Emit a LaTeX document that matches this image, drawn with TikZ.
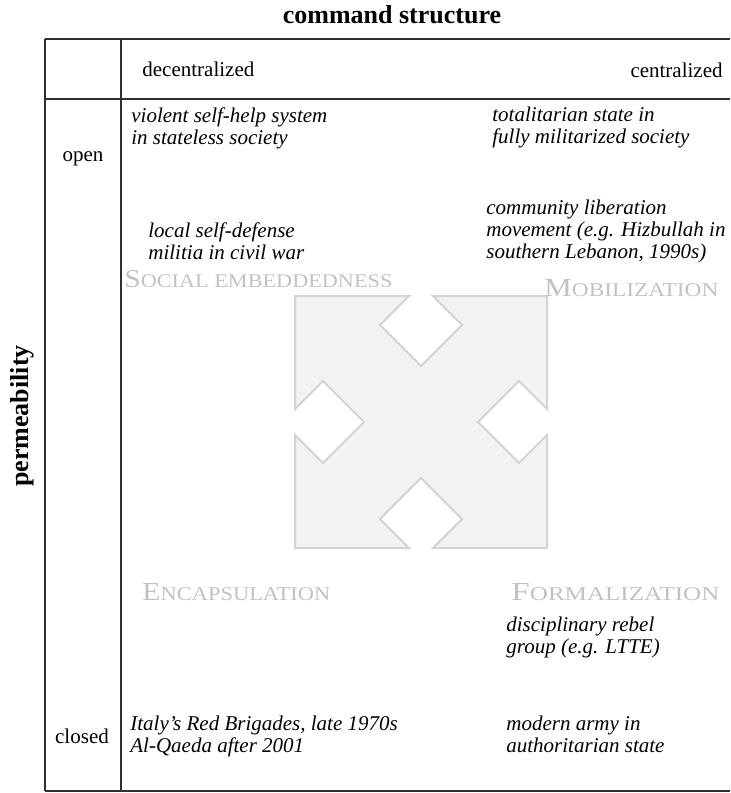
\documentclass[tikz,border=0pt]{standalone}
\usepackage{fontspec}
\setmainfont{Liberation Serif}
\definecolor{rule}{HTML}{303030}
\definecolor{lbl}{HTML}{C2C2C2}
\definecolor{shapefill}{HTML}{F1F2F2}
\definecolor{shapeedge}{HTML}{D2D3D4}
\newcommand{\fsc}[3]{\resizebox{#3pt}{8.5pt}{{\fontsize{13}{13}\selectfont #1}{\fontsize{9.8}{9.8}\selectfont #2}}}
\begin{document}
\begin{tikzpicture}[x=0.5pt,y=-0.5pt,
  ex/.style={font=\fontsize{10.5}{11}\selectfont\itshape, align=left, inner sep=0pt, anchor=north west},
  hd/.style={font=\fontsize{10.5}{11}\selectfont, inner sep=0pt},
  ttl/.style={font=\fontsize{13}{13}\selectfont\bfseries, inner sep=0pt},
  quad/.style={text=lbl, inner sep=0pt, anchor=base west},
  grid/.style={draw=rule, line width=0.9pt}]
\useasboundingbox (0,0) rectangle (730,793);
% table
\coordinate (tl) at (45,39);
\coordinate (tr) at (730,39);
\coordinate (bl) at (45,791);
\coordinate (br) at (730,791);
\coordinate (mt) at (121,39);
\coordinate (mb) at (121,791);
\coordinate (hl) at (45,99);
\coordinate (hr) at (730,99);
\draw[draw=rule, line width=0.7pt] (tl) -- (tr);
\draw[grid] (hl) -- (hr);
\draw[grid] (bl) -- (br);
\draw[grid] (tl) -- (bl);
\draw[grid] (mt) -- (mb);
% central shape
\path[fill=black!7] ([shift={(2,2)}]295,296) -- (409,296) -- (380,325) -- (421,366) -- (462,325) -- (433,296) -- (547,296)
  -- (547,409) -- (519,381) -- (478,422) -- (519,463) -- (547,435) -- (547,548)
  -- (433,548) -- (462,519) -- (421,478) -- (380,519) -- (409,548) -- (295,548)
  -- (295,435) -- (323,463) -- (364,422) -- (323,381) -- (295,409) -- cycle;
\path[fill=shapefill, draw=shapeedge, line width=1pt, line join=miter]
  (295,296) -- (409,296) -- (380,325) -- (421,366) -- (462,325) -- (433,296) -- (547,296)
  -- (547,409) -- (519,381) -- (478,422) -- (519,463) -- (547,435) -- (547,548)
  -- (433,548) -- (462,519) -- (421,478) -- (380,519) -- (409,548) -- (295,548)
  -- (295,435) -- (323,463) -- (364,422) -- (323,381) -- (295,409) -- cycle;
% titles
\node[ttl, anchor=base] (title) at (392,23) {command structure};
\node[ttl, rotate=90, anchor=center] (perm) at (22,416) {permeability};
\node[hd, anchor=base west] (dec) at (142,76) {decentralized};
\node[hd, anchor=base east] (cen) at (723,77) {centralized};
\node[hd, anchor=base] (open) at (83,161) {open};
\node[hd, anchor=base] (closed) at (82,743) {closed};
% examples
\node[ex] (e1) at (131,107) {violent self-help system\\in stateless society};
\node[ex] (e2) at (492,107) {totalitarian state in\\fully militarized society};
\node[ex] (e3) at (148,222) {local self-defense\\militia in civil war};
\node[ex] (e4) at (486,200) {community liberation\\movement (e.g. Hizbullah in\\southern Lebanon, 1990s)};
\node[ex] (e5) at (506,617) {disciplinary rebel\\group (e.g. LTTE)};
\node[ex] (e6) at (130,716) {Italy’s Red Brigades, late 1970s\\Al-Qaeda after 2001};
\node[ex] (e7) at (506,716) {modern army in\\authoritarian state};
% quadrant labels
\node[quad] (q1) at (124,287) {\fsc{S}{OCIAL EMBEDDEDNESS}{134}};
\node[quad] (q2) at (544,296) {\fsc{M}{OBILIZATION}{87}};
\node[quad] (q3) at (142,600) {\fsc{E}{NCAPSULATION}{94}};
\node[quad] (q4) at (511,600) {\fsc{F}{ORMALIZATION}{104}};
\end{tikzpicture}
\end{document}
